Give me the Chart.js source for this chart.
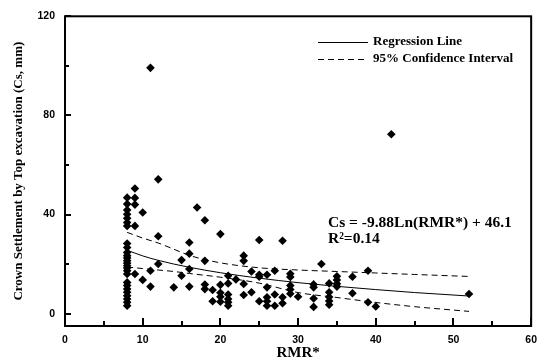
<!DOCTYPE html>
<html>
<head>
<meta charset="utf-8">
<script src="https://cdn.jsdelivr.net/npm/chart.js@4.4.1/dist/chart.umd.min.js"></script>
<style>
  html, body { margin: 0; padding: 0; background: #fff; }
</style>
</head>
<body>
<canvas id="chart" width="545" height="360"></canvas>
<script>
// Measured sections: RMR* and crown settlement (mm)
var rmr = [
	8, 8, 8, 8, 8, 8, 8, 8, 8, 8, 8, 8, 8, 8, 8, 8, 8, 8, 8, 8, 8, 8, 8, 8, 8, 8,
	9, 9, 9, 9, 9,
	10, 10,
	11, 11, 11,
	12, 12, 12,
	14, 15, 15,
	16, 16, 16, 16,
	17,
	18, 18, 18, 18,
	19, 19,
	20, 20, 20, 20, 20,
	21, 21, 21, 21, 21, 21,
	22,
	23, 23, 23, 23,
	24, 24,
	25, 25, 25, 25,
	26, 26, 26, 26, 26,
	27, 27, 27,
	28, 28, 28,
	29, 29, 29, 29, 29,
	30,
	32, 32, 32, 32,
	33,
	34, 34, 34, 34, 34,
	35, 35, 35, 35,
	37, 37,
	39, 39,
	40, 42, 52
];
var cs = [
	46.8, 44.2, 41.8, 40.1, 38.5, 36.8, 35.4, 28.3, 26.7, 24.7, 23.4, 22.4, 21.3, 20.3, 19.3, 18.4, 17.3, 16.0, 12.6, 11.3, 9.9, 8.6, 7.2, 5.9, 4.6, 3.2,
	50.5, 46.7, 44.0, 35.4, 16.0,
	40.8, 13.6,
	99.2, 17.3, 10.9,
	54.2, 31.2, 20.0,
	10.6, 21.6, 15.3,
	28.7, 24.2, 18.0, 10.9,
	42.8,
	37.7, 21.3, 11.7, 9.9,
	9.5, 5.0,
	32.1, 11.6, 8.4, 6.8, 4.8,
	15.3, 12.2, 7.7, 5.9, 4.6, 3.2,
	13.8,
	23.4, 21.3, 12.0, 7.5,
	17.0, 8.6,
	29.7, 15.7, 14.9, 5.0,
	15.7, 10.6, 6.6, 5.0, 3.2,
	17.3, 7.7, 3.2,
	29.4, 6.6, 4.2,
	16.1, 14.8, 11.3, 9.7, 8.0,
	6.8,
	11.8, 10.6, 6.1, 2.7,
	20.0,
	12.2, 8.6, 6.7, 5.1, 3.6,
	15.1, 13.6, 12.1, 10.9,
	14.9, 8.2,
	17.3, 4.6,
	2.9, 72.4, 7.9
];

// Regression line and 95% confidence band
var lineX   = [8, 10, 12, 14, 16, 20, 25, 30, 35, 40, 45, 52];
var regLine = [25.6, 23.3, 21.5, 20.0, 18.7, 16.5, 14.3, 12.5, 11.0, 9.7, 8.5, 7.1];
var upperCI = [32.8, 30.5, 28.5, 26.0, 23.5, 20.5, 18.5, 17.6, 17.0, 16.4, 15.8, 15.0];
var lowerCI = [18.8, 18.2, 17.6, 17.0, 16.2, 14.7, 12.3, 8.5, 6.5, 4.5, 2.8, 0.9];

// Axis ticks
var xTicks = [0, 10, 20, 30, 40, 50, 60];
var xMinorTicks = [5, 15, 25, 35, 45, 55];
var yTicks = [0, 40, 80, 120];
var yMinorTicks = [20, 60, 100];

var serif = "'Liberation Serif', 'Times New Roman', serif";
var sans = "'Liberation Sans', Arial, sans-serif";

function toXY(xs, ys) {
	var out = [];
	for (var i = 0; i < xs.length; i++) { out.push({ x: xs[i], y: ys[i] }); }
	return out;
}

// frame, inward ticks, legend and equation
var decorations = {
	id: 'decorations',
	afterDraw: function(chart) {
		var ctx = chart.ctx;
		var a = chart.chartArea;
		var xs = chart.scales.x, ys = chart.scales.y;
		ctx.save();
		ctx.strokeStyle = '#000';
		ctx.lineWidth = 2;
		ctx.strokeRect(a.left, a.top, a.right - a.left, a.bottom - a.top);

		ctx.beginPath();
		xTicks.forEach(function(v) {
			var px = Math.round(xs.getPixelForValue(v));
			ctx.moveTo(px, a.bottom); ctx.lineTo(px, a.bottom - 8);
		});
		xMinorTicks.forEach(function(v) {
			var px = Math.round(xs.getPixelForValue(v));
			ctx.moveTo(px, a.bottom); ctx.lineTo(px, a.bottom - 5);
		});
		yTicks.forEach(function(v) {
			var py = Math.round(ys.getPixelForValue(v));
			ctx.moveTo(a.left, py); ctx.lineTo(a.left + 6, py);
		});
		yMinorTicks.forEach(function(v) {
			var py = Math.round(ys.getPixelForValue(v));
			ctx.moveTo(a.left, py); ctx.lineTo(a.left + 4, py);
		});
		ctx.stroke();

		// legend
		ctx.lineWidth = 1;
		ctx.beginPath();
		ctx.moveTo(318, 42.5); ctx.lineTo(368, 42.5);
		ctx.stroke();
		ctx.setLineDash([6, 4]);
		ctx.beginPath();
		ctx.moveTo(318, 59.5); ctx.lineTo(368, 59.5);
		ctx.stroke();
		ctx.setLineDash([]);
		ctx.fillStyle = '#000';
		ctx.textBaseline = 'middle';
		ctx.textAlign = 'left';
		ctx.font = 'bold 13px ' + serif;
		ctx.fillText('Regression Line', 373, 42);
		ctx.fillText('95% Confidence Interval', 373, 59);

		// equation
		ctx.font = 'bold 15.5px ' + serif;
		ctx.fillText('Cs = -9.88Ln(RMR*) + 46.1', 328, 223);
		ctx.fillText('R\u00B2=0.14', 328, 239);
		ctx.restore();
	}
};

var ctx = document.getElementById('chart').getContext('2d');
var myChart = new Chart(ctx, {
	type: 'scatter',
	data: {
		datasets: [{
			label: 'Measured',
			data: toXY(rmr, cs),
			pointStyle: 'rectRot',
			pointRadius: 4.3,
			backgroundColor: '#000',
			borderColor: '#000',
			borderWidth: 0
		}, {
			label: 'Regression Line',
			data: toXY(lineX, regLine),
			showLine: true,
			pointRadius: 0,
			borderColor: '#000',
			borderWidth: 1,
			cubicInterpolationMode: 'monotone'
		}, {
			label: '95% Confidence Interval',
			data: toXY(lineX, upperCI),
			showLine: true,
			pointRadius: 0,
			borderColor: '#000',
			borderWidth: 1,
			borderDash: [6, 4],
			cubicInterpolationMode: 'monotone'
		}, {
			label: '95% Confidence Interval (lower)',
			data: toXY(lineX, lowerCI),
			showLine: true,
			pointRadius: 0,
			borderColor: '#000',
			borderWidth: 1,
			borderDash: [6, 4],
			cubicInterpolationMode: 'monotone'
		}]
	},
	options: {
		responsive: false,
		animation: false,
		layout: { padding: { left: 0, top: 15, right: 13, bottom: 0 } },
		plugins: {
			legend: { display: false },
			tooltip: { enabled: false }
		},
		scales: {
			x: {
				type: 'linear',
				min: 0,
				max: 60,
				afterBuildTicks: function(s) { s.ticks = xTicks.map(function(v) { return { value: v }; }); },
				afterFit: function(s) { s.height = 34; },
				grid: { display: false, drawTicks: false },
				border: { display: false },
				ticks: {
					padding: 8,
					color: '#000',
					maxRotation: 0,
					autoSkip: false,
					font: { family: sans, size: 10.5, weight: 'bold' }
				},
				title: {
					display: true,
					text: 'RMR*',
					color: '#000',
					padding: { top: 0, bottom: -2 },
					font: { family: serif, size: 15, weight: 'bold' }
				}
			},
			y: {
				type: 'linear',
				min: -5,
				max: 120,
				afterBuildTicks: function(s) { s.ticks = yTicks.map(function(v) { return { value: v }; }); },
				afterFit: function(s) { s.width = 65; },
				grid: { display: false, drawTicks: false },
				border: { display: false },
				ticks: {
					padding: 10,
					color: '#000',
					autoSkip: false,
					font: { family: sans, size: 10.5, weight: 'bold' }
				},
				title: {
					display: true,
					text: 'Crown Settlement by Top excavation (Cs, mm)',
					color: '#000',
					padding: { top: 11, bottom: 0 },
					font: { family: serif, size: 13, weight: 'bold' }
				}
			}
		}
	},
	plugins: [decorations]
});
</script>
</body>
</html>
